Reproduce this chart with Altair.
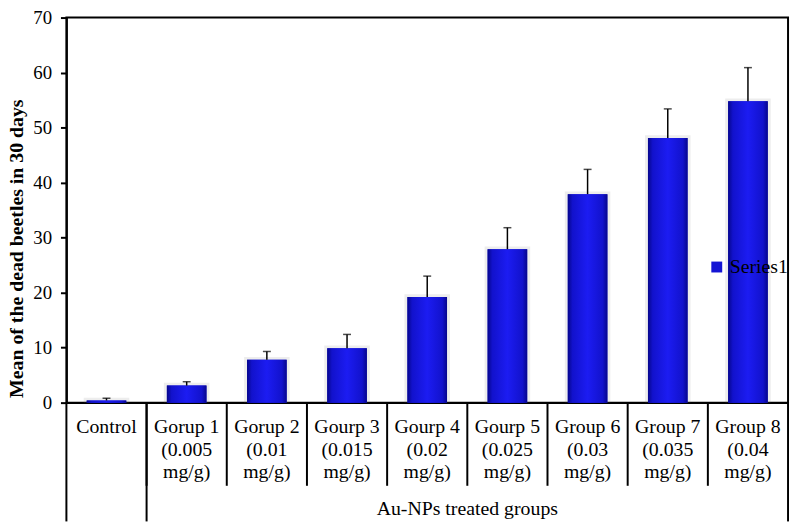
import altair as alt
import pandas as pd

groups = ["Control", "Gorup 1", "Gorup 2", "Gourp 3", "Gourp 4", "Gourp 5", "Group 6", "Group 7", "Group 8"]
doses = ["", "(0.005", "(0.01", "(0.015", "(0.02", "(0.025", "(0.03", "(0.035", "(0.04"]
means = [0.4, 3.1, 7.8, 9.9, 19.2, 27.9, 37.9, 48.1, 54.8]
errors = [0.4, 0.7, 1.5, 2.5, 3.8, 3.9, 4.5, 5.3, 6.1]
series_name = "Series1"
group_title = "Au-NPs treated groups"
y_title = "Mean of the dead beetles in 30 days"

labels = [g if d == "" else f"{g}\n{d}\nmg/g)" for g, d in zip(groups, doses)]
df = pd.DataFrame({
    "cat": labels,
    "mean": means,
    "top": [m + e for m, e in zip(means, errors)],
    "shadow": [m + 0.5 for m in means],
    "series": series_name,
})

W, H = 729, 389
FONT = "Liberation Serif"
order = labels

xenc = alt.X("cat:N", sort=order, scale=alt.Scale(paddingInner=0.0, paddingOuter=0.0),
             axis=alt.Axis(title=None, labelAngle=0, labelExpr="split(datum.label, '\\n')",
                           labelFont=FONT, labelFontSize=20, labelColor="black",
                           labelLineHeight=23, labelBaseline="top", labelPadding=14,
                           ticks=False, tickSize=0, domainColor="black", domainWidth=2,
                           labelLimit=200))
yscale = alt.Scale(domain=[0, 70], nice=False, zero=True)
yenc = alt.Y("mean:Q", scale=yscale,
             axis=alt.Axis(title=y_title, values=list(range(0, 71, 10)), grid=False,
                           labelFont=FONT, labelFontSize=19, labelColor="black",
                           tickSize=6, tickWidth=2, tickColor="black", labelPadding=9,
                           domainColor="black", domainWidth=2,
                           titleFont=FONT, titleFontSize=20, titleFontWeight="bold",
                           titleColor="black", titleX=-40, titleY=233))

base = alt.Chart(df)

shadow = base.mark_bar(size=46, color="#808080", opacity=0.14).encode(
    x=xenc, y=alt.Y("shadow:Q", scale=yscale), y2=alt.datum(0))

flat = base.mark_bar(size=40).encode(
    x=xenc, y=yenc,
    color=alt.Color("series:N", scale=alt.Scale(range=["#1414d4"]),
                    legend=alt.Legend(title=None, orient="none", legendX=647, legendY=242,
                                      symbolType="square", symbolSize=121,
                                      symbolStrokeWidth=0, labelFont=FONT,
                                      labelFontSize=20, labelColor="black",
                                      padding=0, labelOffset=3)))

grad = alt.Gradient(gradient="linear", x1=0, x2=1, y1=0, y2=0, stops=[
    alt.GradientStop(offset=0, color="#06068c"),
    alt.GradientStop(offset=0.12, color="#1212cc"),
    alt.GradientStop(offset=0.5, color="#1c1cf2"),
    alt.GradientStop(offset=0.88, color="#1212cc"),
    alt.GradientStop(offset=1, color="#06068c"),
])
bars = base.mark_bar(size=40, fill=grad).encode(x=xenc, y=alt.Y("mean:Q", scale=yscale))

err = base.mark_rule(color="black", strokeWidth=1.5).encode(
    x=xenc, y=alt.Y("mean:Q", scale=yscale), y2="top:Q")
caps = base.mark_tick(color="black", size=8, thickness=1.5, orient="horizontal").encode(
    x=xenc, y=alt.Y("top:Q", scale=yscale))

div_df = pd.DataFrame({"cat": labels[1:]})
dividers = alt.Chart(div_df).mark_rule(color="black", strokeWidth=2).encode(
    x=alt.X("cat:N", sort=order, bandPosition=0), y=alt.value(H), y2=alt.value(H + 84))

long_df = pd.DataFrame({"cat": [labels[1]]})
long_div = alt.Chart(long_df).mark_rule(color="black", strokeWidth=2).encode(
    x=alt.X("cat:N", sort=order, bandPosition=0), y=alt.value(H), y2=alt.value(H + 120))
edges = alt.Chart(pd.DataFrame({"p": [0, W]})).mark_rule(color="black", strokeWidth=2).encode(
    x=alt.X("p:Q", scale=None), y=alt.value(H), y2=alt.value(H + 120))

title_df = pd.DataFrame({"cat": [labels[5]], "t": [group_title]})
gtitle = alt.Chart(title_df).mark_text(font=FONT, fontSize=20, color="black",
                                        baseline="alphabetic", align="center").encode(
    x=alt.X("cat:N", sort=order, bandPosition=0), y=alt.value(H + 114), text="t:N")

chart = alt.layer(shadow, flat, bars, err, caps, dividers, long_div, edges, gtitle).properties(
    width=W, height=H,
    autosize=alt.AutoSizeParams(type="none"),
    padding={"left": 59, "top": 7, "right": 4, "bottom": 126},
).configure(font=FONT).configure_view(stroke="black", strokeWidth=2)

chart.save("out.html", embed_options={"renderer": "svg", "actions": False})
